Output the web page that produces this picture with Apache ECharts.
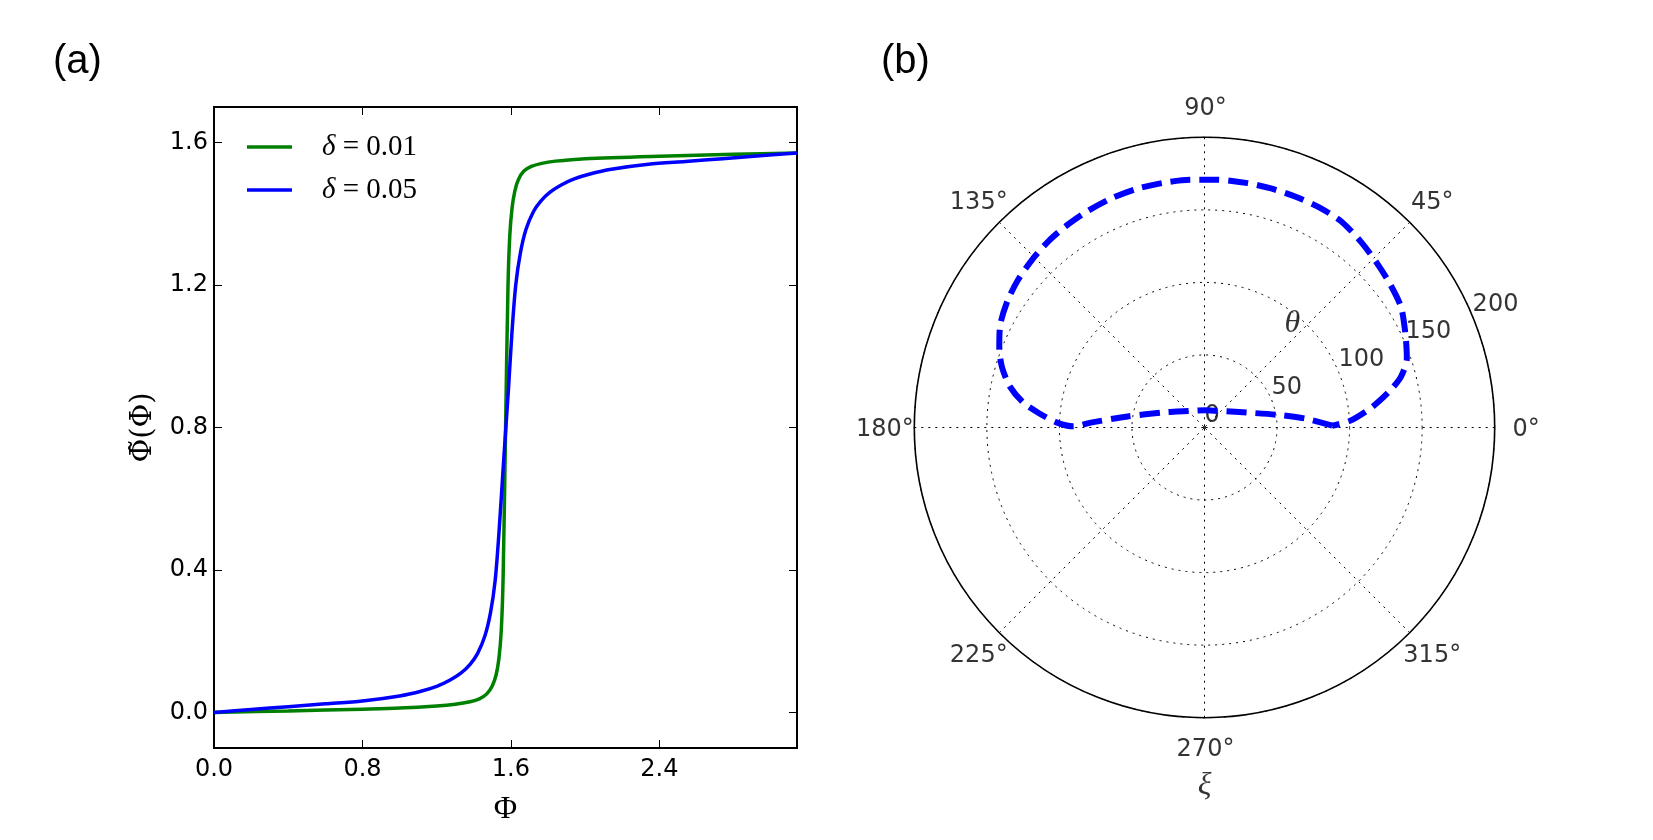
<!DOCTYPE html>
<html>
<head>
<meta charset="utf-8">
<title>Phi tilde / polar theta-xi</title>
<script src="https://cdn.jsdelivr.net/npm/echarts@6/dist/echarts.min.js"></script>
<style>
  html, body { margin: 0; padding: 0; background: #fff; }
  #chart { width: 1653px; height: 840px; }
</style>
</head>
<body>
<div id="chart"></div>
<script>
// ---- (a) Φ̃(Φ), two values of δ ----
const greenPhi = [0, 0.4, 0.8, 1.0, 1.2, 1.3, 1.38, 1.43, 1.47, 1.5, 1.52, 1.535, 1.548, 1.558, 1.5708,
  1.584, 1.594, 1.607, 1.622, 1.64, 1.67, 1.71, 1.76, 1.84, 2.0, 2.4, 2.8, 3.1416]
const greenVal = [0, 0.004, 0.009, 0.012, 0.018, 0.023, 0.03, 0.038, 0.052, 0.075, 0.105, 0.15, 0.23, 0.38, 0.785,
  1.19, 1.34, 1.42, 1.466, 1.496, 1.52, 1.533, 1.541, 1.548, 1.555, 1.562, 1.567, 1.571]

const bluePhi = [0, 0.2, 0.4, 0.6, 0.8, 1.0, 1.12, 1.2, 1.27, 1.33, 1.38, 1.42, 1.46, 1.49, 1.515, 1.535, 1.555, 1.5708,
  1.587, 1.606, 1.626, 1.651, 1.681, 1.721, 1.761, 1.811, 1.871, 1.941, 2.021, 2.141, 2.341, 2.541, 2.741, 2.941, 3.1416]
const blueVal = [0, 0.008, 0.016, 0.024, 0.032, 0.046, 0.06, 0.073, 0.09, 0.11, 0.135, 0.165, 0.215, 0.28, 0.37, 0.5, 0.66, 0.785,
  0.91, 1.07, 1.2, 1.29, 1.356, 1.406, 1.436, 1.461, 1.481, 1.498, 1.511, 1.525, 1.539, 1.547, 1.555, 1.563, 1.571]

const xTicks = [0, 0.8, 1.6, 2.4]
const yTicks = [0, 0.4, 0.8, 1.2, 1.6]

// ---- (b) polar curve θ(ξ), ξ in degrees ----
const curveXi = [0.8, 5.0, 9.6, 19.1, 31.4, 54.2, 90, 131.3, 150, 160.1, 171.8, 177.4, 179.5,
  178.0, 175.0, 172.1, 168.0, 163.5, 159.0, 153.4, 147.1, 141.4, 135.2, 129.9, 124.6, 118.5, 112.1,
  105.9, 99.6, 93.4, 87.2, 80.0, 74.7, 68.6, 62.6, 56.5, 49.8, 43.7, 37.8, 31.5, 24.7, 18.9, 14.5,
  11.2, 6.95, 2.6, 0.8]
const curveTheta = [88.0, 69.9, 51.9, 31.4, 21.1, 14.2, 11.9, 15.3, 22.0, 30.3, 53.6, 77.6, 90.5,
  102.1, 114.8, 126.3, 137.3, 145.5, 151.5, 157.5, 161.5, 164, 166, 167.5, 168.5, 169.5, 170.5,
  171, 171, 171, 171, 171, 171, 171, 171, 170.5, 167.3, 164.2, 161.7, 158.9, 152.5, 147.4, 139.9,
  130.3, 116.4, 100.3, 88.0]

const angleTicks = [0, 45, 90, 135, 180, 225, 270, 315]
const radiusTicks = [0, 50, 100, 150, 200]

const tickFont = { fontFamily: 'DejaVu Sans', fontSize: 24, color: '#000' }
const dotted = { color: '#000', width: 1, type: [2, 5] }
const mathFont = 'Liberation Serif'

const chart = echarts.init(document.getElementById('chart'))

// 坐标轴（四边都画向内的刻度）
const makeX = (pos, showLabel) => ({
  type: 'value', gridIndex: 0, position: pos, min: 0, max: Math.PI,
  axisLine: { show: false, onZero: false },
  axisTick: { show: true, inside: true, length: 8, customValues: xTicks, lineStyle: { color: '#000', width: 1 } },
  axisLabel: { show: showLabel, customValues: xTicks, margin: 10, formatter: v => v.toFixed(1), ...tickFont },
  splitLine: { show: false },
  name: showLabel ? 'Φ' : '', nameLocation: 'middle', nameGap: 46,
  nameTextStyle: { fontFamily: mathFont, fontSize: 32, color: '#000' }
})
const makeY = (pos, showLabel) => ({
  type: 'value', gridIndex: 0, position: pos, min: -0.1, max: 1.7,
  axisLine: { show: false, onZero: false },
  axisTick: { show: true, inside: true, length: 8, customValues: yTicks, lineStyle: { color: '#000', width: 1 } },
  axisLabel: { show: showLabel, customValues: yTicks, margin: 6, formatter: v => v.toFixed(1), ...tickFont },
  splitLine: { show: false },
  name: showLabel ? 'Φ\u0303(Φ)' : '', nameLocation: 'middle', nameGap: 56, nameRotate: 90,
  nameTextStyle: { fontFamily: 'DejaVu Serif', fontSize: 29, color: '#000' }
})

const angleLabelData = angleTicks.map(a => [221, a])
const radiusLabelData = radiusTicks.map(r => [r, 22.5])

const panelTitle = { fontFamily: 'Liberation Sans', fontSize: 40, fontWeight: 'normal', color: '#000' }

chart.setOption({
  animation: false,
  backgroundColor: '#fff',
  title: [
    { text: '(a)', left: 53, top: 42, padding: 0, textStyle: panelTitle },
    { text: '(b)', left: 881, top: 42, padding: 0, textStyle: panelTitle }
  ],
  legend: {
    data: ['δ = 0.01', 'δ = 0.05'],
    orient: 'vertical', left: 247, top: 132.5, padding: 0,
    icon: 'rect', itemWidth: 45, itemHeight: 3.5, itemGap: 14,
    formatter: name => name.replace('δ', '{d|δ}'),
    textStyle: {
      fontFamily: mathFont, fontSize: 29, color: '#000', padding: [0, 0, 0, 25],
      rich: { d: { fontFamily: mathFont, fontStyle: 'italic', fontSize: 29, color: '#000' } }
    }
  },
  grid: {
    left: 214, top: 107, width: 583, height: 641,
    show: true, borderColor: '#000', borderWidth: 2, backgroundColor: 'transparent'
  },
  xAxis: [makeX('bottom', true), makeX('top', false)],
  yAxis: [makeY('left', true), makeY('right', false)],
  polar: { center: [1204.5, 427.5], radius: [0, 290.2] },
  angleAxis: {
    type: 'value', min: 0, max: 360, interval: 45, startAngle: 0, clockwise: false,
    axisLine: { show: true, lineStyle: { color: '#000', width: 1.6 } },
    axisTick: { show: false },
    axisLabel: { show: false },
    splitLine: { show: true, lineStyle: dotted }
  },
  radiusAxis: {
    type: 'value', min: 0, max: 200, interval: 50,
    axisLine: { show: false }, axisTick: { show: false }, axisLabel: { show: false },
    splitLine: { show: true, lineStyle: dotted }
  },
  series: [
    {
      name: 'δ = 0.01', type: 'line', xAxisIndex: 0, yAxisIndex: 0,
      data: greenPhi.map((x, i) => [x, greenVal[i]]),
      showSymbol: false, smooth: 0.3,
      color: '#008000', lineStyle: { width: 3.5, color: '#008000' }
    },
    {
      name: 'δ = 0.05', type: 'line', xAxisIndex: 0, yAxisIndex: 0,
      data: bluePhi.map((x, i) => [x, blueVal[i]]),
      showSymbol: false, smooth: 0.3,
      color: '#0000ff', lineStyle: { width: 3.5, color: '#0000ff' }
    },
    {
      name: 'curve', type: 'line', coordinateSystem: 'polar',
      data: curveTheta.map((r, i) => [r, curveXi[i]]),
      showSymbol: false, smooth: 0.25, clip: false,
      lineStyle: { color: '#0000ff', width: 6, type: [20, 9] }
    },
    {
      // 角度刻度标签
      name: 'angleLabels', type: 'scatter', coordinateSystem: 'polar', clip: false,
      symbolSize: 0, data: angleLabelData, silent: true,
      label: { show: true, position: [0, 0], align: 'center', verticalAlign: 'middle', offset: [1, 2],
        formatter: p => p.value[1] + '°', ...tickFont }
    },
    {
      // 半径刻度标签
      name: 'radiusLabels', type: 'scatter', coordinateSystem: 'polar', clip: false,
      symbolSize: 0, data: radiusLabelData, silent: true,
      label: { show: true, position: [0, 0], align: 'left', verticalAlign: 'bottom',
        formatter: p => String(p.value[0]), ...tickFont }
    },
    {
      name: 'axisNames', type: 'scatter', coordinateSystem: 'polar', clip: false,
      symbolSize: 0, silent: true,
      data: [
        { value: [93.7, 49.8], label: { formatter: 'θ' } },
        { value: [246.7, 270], label: { formatter: 'ξ' } }
      ],
      label: { show: true, position: [0, 0], align: 'center', verticalAlign: 'middle',
        fontFamily: mathFont, fontStyle: 'italic', fontSize: 32, color: '#000' }
    },
    {
      name: 'origin', type: 'scatter', coordinateSystem: 'polar', silent: true,
      symbolSize: 3, data: [[0, 0]], itemStyle: { color: '#000' }
    }
  ]
})
</script>
</body>
</html>
